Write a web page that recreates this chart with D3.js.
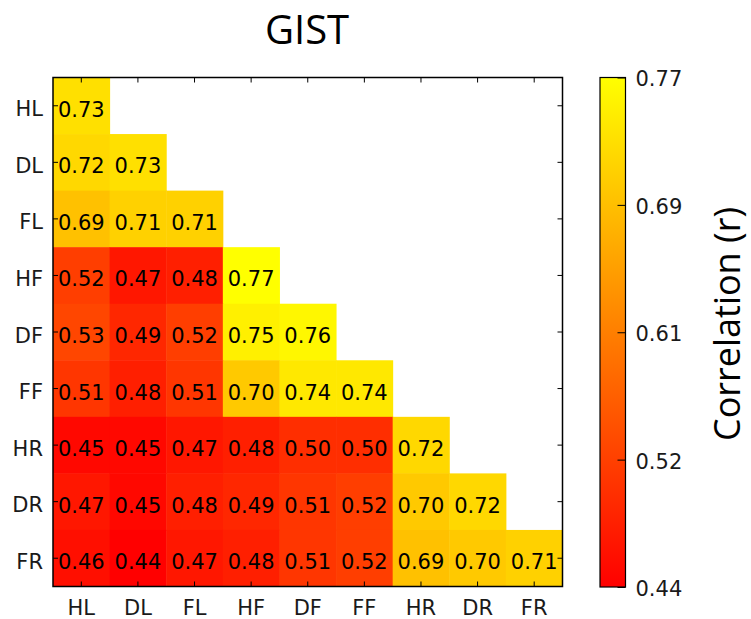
<!DOCTYPE html>
<html>
<head>
<meta charset="utf-8">
<script src="https://cdn.jsdelivr.net/npm/d3@7"></script>
<style>
  body { margin: 0; background: #fff; }
  svg { display: block; }
</style>
</head>
<body>
<div id="chart"></div>
<script>
// matriz de correlacion GIST (triangulo inferior)

let labels = ["HL", "DL", "FL", "HF", "DF", "FF", "HR", "DR", "FR"]

let rowHL = [0.73]
let rowDL = [0.72, 0.73]
let rowFL = [0.69, 0.71, 0.71]
let rowHF = [0.52, 0.47, 0.48, 0.77]
let rowDF = [0.53, 0.49, 0.52, 0.75, 0.76]
let rowFF = [0.51, 0.48, 0.51, 0.70, 0.74, 0.74]
let rowHR = [0.45, 0.45, 0.47, 0.48, 0.50, 0.50, 0.72]
let rowDR = [0.47, 0.45, 0.48, 0.49, 0.51, 0.52, 0.70, 0.72]
let rowFR = [0.46, 0.44, 0.47, 0.48, 0.51, 0.52, 0.69, 0.70, 0.71]

let rows = [rowHL, rowDL, rowFL, rowHF, rowDF, rowFF, rowHR, rowDR, rowFR]

let colorMin = 0.44
let colorMax = 0.77
let cbTicks = [0.44, 0.5225, 0.605, 0.6875, 0.77]
let cbTickLabels = ["0.44", "0.52", "0.61", "0.69", "0.77"]

let width = 751
let height = 619

let plotLeft = 53, plotRight = 562.5, plotTop = 77.5, plotBottom = 586.5
let axisFont = "'DejaVu Sans', sans-serif"

// cells as flat list
let cells = []
rows.forEach((r, i) => {
    r.forEach((v, j) => {
        cells.push({ row: labels[i], col: labels[j], value: v })
    })
})

const xScale = d3.scaleBand().domain(labels).range([plotLeft, plotRight])
const yScale = d3.scaleBand().domain(labels).range([plotTop, plotBottom])

const color = d3.scaleLinear()
    .domain([colorMin, colorMax])
    .range(["#ff0000", "#ffff00"])

const svg = d3.select("#chart")
    .append("svg")
    .attr("width", width)
    .attr("height", height)

svg.selectAll("rect.cell")
    .data(cells)
    .enter()
    .append("rect")
    .attr("class", "cell")
    .attr("x", d => xScale(d.col))
    .attr("y", d => yScale(d.row))
    .attr("width", xScale.bandwidth() + 0.5)
    .attr("height", yScale.bandwidth() + 0.5)
    .attr("fill", d => color(d.value))

svg.selectAll("text.val")
    .data(cells)
    .enter()
    .append("text")
    .attr("class", "val")
    .attr("x", d => xScale(d.col) + xScale.bandwidth() / 2)
    .attr("y", d => yScale(d.row) + yScale.bandwidth() / 2 + 11)
    .attr("text-anchor", "middle")
    .attr("font-family", axisFont)
    .attr("font-size", 21)
    .attr("fill", "#000")
    .text(d => d.value.toFixed(2))

// ejes, ticks hacia adentro
const xAxis = d3.axisBottom(xScale).tickSizeInner(-5).tickSizeOuter(0).tickPadding(14)
const yAxis = d3.axisLeft(yScale).tickSizeInner(-5).tickSizeOuter(0).tickPadding(10)
const xTop = d3.axisTop(xScale).tickSizeInner(-5).tickSizeOuter(0).tickFormat("")
const yRight = d3.axisRight(yScale).tickSizeInner(-5).tickSizeOuter(0).tickFormat("")

let gx = svg.append("g")
    .attr("transform", "translate(0," + plotBottom + ")")
    .call(xAxis)
let gy = svg.append("g")
    .attr("transform", "translate(" + plotLeft + ",0)")
    .call(yAxis)
svg.append("g")
    .attr("transform", "translate(0," + plotTop + ")")
    .call(xTop)
svg.append("g")
    .attr("transform", "translate(" + plotRight + ",0)")
    .call(yRight)

svg.selectAll(".domain").remove()
svg.selectAll(".tick line").attr("stroke", "#000").attr("stroke-width", 1)
gx.selectAll("text").attr("font-family", axisFont).attr("font-size", 21).attr("fill", "#1a1a1a")
gy.selectAll("text").attr("font-family", axisFont).attr("font-size", 21).attr("fill", "#1a1a1a").attr("dy", "0.5em")

svg.append("rect")
    .attr("x", plotLeft)
    .attr("y", plotTop)
    .attr("width", plotRight - plotLeft)
    .attr("height", plotBottom - plotTop)
    .attr("fill", "none")
    .attr("stroke", "#000")
    .attr("stroke-width", 1.5)

// titulo
svg.append("text")
    .attr("x", 307)
    .attr("y", 44)
    .attr("text-anchor", "middle")
    .attr("font-family", "'Open Sans', sans-serif")
    .attr("font-size", 40)
    .attr("fill", "#000")
    .text("GIST")

// barra de color
let cbX = 600, cbW = 25.5
const cbScale = d3.scaleLinear()
    .domain([colorMin, colorMax])
    .range([587, 77.5])

let grad = svg.append("defs")
    .append("linearGradient")
    .attr("id", "cbgrad")
    .attr("x1", 0).attr("y1", 1)
    .attr("x2", 0).attr("y2", 0)
grad.selectAll("stop")
    .data(cbTicks)
    .enter()
    .append("stop")
    .attr("offset", d => (d - colorMin) / (colorMax - colorMin))
    .attr("stop-color", d => color(d))

svg.append("rect")
    .attr("x", cbX)
    .attr("y", cbScale(colorMax))
    .attr("width", cbW)
    .attr("height", cbScale(colorMin) - cbScale(colorMax))
    .attr("fill", "url(#cbgrad)")
    .attr("stroke", "#000")
    .attr("stroke-width", 1.2)

const cbAxis = d3.axisRight(cbScale)
    .tickValues(cbTicks)
    .tickFormat((d, i) => cbTickLabels[i])
    .tickSizeInner(-8)
    .tickSizeOuter(0)
    .tickPadding(10)

let gcb = svg.append("g")
    .attr("transform", "translate(" + (cbX + cbW) + ",0)")
    .call(cbAxis)
gcb.select(".domain").remove()
gcb.selectAll("line").attr("stroke", "#000")
gcb.selectAll("text")
    .attr("font-family", axisFont)
    .attr("font-size", 21)
    .attr("fill", "#1a1a1a")
    .attr("dy", "0.4em")

svg.append("text")
    .attr("transform", "translate(740,324) rotate(-90)")
    .attr("text-anchor", "middle")
    .attr("font-family", "'Open Sans', sans-serif")
    .attr("font-size", 36)
    .attr("fill", "#000")
    .text("Correlation (r)")
</script>
</body>
</html>
